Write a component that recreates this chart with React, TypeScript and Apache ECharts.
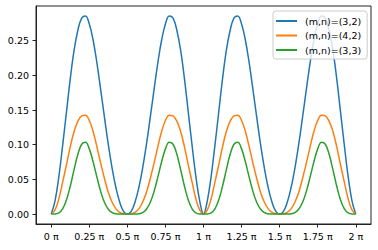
import React, { useEffect, useRef } from "react";
import * as echarts from "echarts";

// x positions in units of π
const xs = [
  0, 0.025, 0.05, 0.075, 0.1, 0.125, 0.15, 0.175, 0.2, 0.225, 0.25, 0.275, 0.3, 0.325, 0.35, 0.375, 0.4, 0.425, 0.45, 0.475,
  0.5, 0.525, 0.55, 0.575, 0.6, 0.625, 0.65, 0.675, 0.7, 0.725, 0.75, 0.775, 0.8, 0.825, 0.85, 0.875, 0.9, 0.925, 0.95, 0.975,
  1, 1.025, 1.05, 1.075, 1.1, 1.125, 1.15, 1.175, 1.2, 1.225, 1.25, 1.275, 1.3, 1.325, 1.35, 1.375, 1.4, 1.425, 1.45, 1.475,
  1.5, 1.525, 1.55, 1.575, 1.6, 1.625, 1.65, 1.675, 1.7, 1.725, 1.75, 1.775, 1.8, 1.825, 1.85, 1.875, 1.9, 1.925, 1.95, 1.975,
  2,
];

const s32 = [
  0, 0.019, 0.054, 0.099, 0.147, 0.195, 0.236, 0.265, 0.2825, 0.2855, 0.274, 0.251, 0.218, 0.179, 0.139, 0.1, 0.066, 0.038, 0.017, 0.004,
  0, 0.004, 0.017, 0.038, 0.066, 0.1, 0.139, 0.179, 0.218, 0.251, 0.274, 0.2855, 0.2825, 0.265, 0.236, 0.195, 0.147, 0.099, 0.054, 0.019,
  0, 0.019, 0.054, 0.099, 0.147, 0.195, 0.236, 0.265, 0.2825, 0.2855, 0.274, 0.251, 0.218, 0.179, 0.139, 0.1, 0.066, 0.038, 0.017, 0.004,
  0, 0.004, 0.017, 0.038, 0.066, 0.1, 0.139, 0.179, 0.218, 0.251, 0.274, 0.2855, 0.2825, 0.265, 0.236, 0.195, 0.147, 0.099, 0.054, 0.019,
  0,
];

const s42 = [
  0, 0.006, 0.022, 0.046, 0.071, 0.097, 0.119, 0.134, 0.1415, 0.1425, 0.135, 0.119, 0.097, 0.073, 0.051, 0.031, 0.017, 0.0075, 0.0025, 0.0004,
  0, 0.0004, 0.0025, 0.0075, 0.017, 0.031, 0.051, 0.073, 0.097, 0.119, 0.135, 0.1425, 0.1415, 0.134, 0.119, 0.097, 0.071, 0.046, 0.022, 0.006,
  0, 0.006, 0.022, 0.046, 0.071, 0.097, 0.119, 0.134, 0.1415, 0.1425, 0.135, 0.119, 0.097, 0.073, 0.051, 0.031, 0.017, 0.0075, 0.0025, 0.0004,
  0, 0.0004, 0.0025, 0.0075, 0.017, 0.031, 0.051, 0.073, 0.097, 0.119, 0.135, 0.1425, 0.1415, 0.134, 0.119, 0.097, 0.071, 0.046, 0.022, 0.006,
  0,
];

const s33 = [
  0, 0.0001, 0.0017, 0.0076, 0.0203, 0.0401, 0.064, 0.0862, 0.1007, 0.1035, 0.094, 0.0755, 0.0532, 0.0324, 0.0166, 0.0069, 0.0021, 0.0004, 0, 0,
  0, 0, 0, 0.0004, 0.0021, 0.0069, 0.0166, 0.0324, 0.0532, 0.0755, 0.094, 0.1035, 0.1007, 0.0862, 0.064, 0.0401, 0.0203, 0.0076, 0.0017, 0.0001,
  0, 0.0001, 0.0017, 0.0076, 0.0203, 0.0401, 0.064, 0.0862, 0.1007, 0.1035, 0.094, 0.0755, 0.0532, 0.0324, 0.0166, 0.0069, 0.0021, 0.0004, 0, 0,
  0, 0, 0, 0.0004, 0.0021, 0.0069, 0.0166, 0.0324, 0.0532, 0.0755, 0.094, 0.1035, 0.1007, 0.0862, 0.064, 0.0401, 0.0203, 0.0076, 0.0017, 0.0001,
  0,
];

const seriesNames = ["(m,n)=(3,2)", "(m,n)=(4,2)", "(m,n)=(3,3)"];
const xTicks = [0, 0.25, 0.5, 0.75, 1, 1.25, 1.5, 1.75, 2];
const xTickLabels = ["0 π", "0.25 π", "0.5 π", "0.75 π", "1 π", "1.25 π", "1.5 π", "1.75 π", "2 π"];
const yTicks = [0, 0.05, 0.1, 0.15, 0.2, 0.25];
const yTickLabels = ["0.00", "0.05", "0.10", "0.15", "0.20", "0.25"];

const colors = ["#1f77b4", "#ff7f0e", "#2ca02c"];
const FONT = "DejaVu Sans";

export default function App() {
  const ref = useRef<HTMLDivElement>(null);
  useEffect(() => {
    if (!ref.current) return;
    const chart = echarts.init(ref.current, null, { renderer: "svg" });
    const allSeries = [s32, s42, s33];
    chart.setOption({
      animation: false,
      grid: {
        left: 36,
        right: 7,
        top: 6,
        bottom: 26,
        show: true,
        borderColor: "#222",
        borderWidth: 1,
        backgroundColor: "transparent",
      },
      xAxis: {
        type: "value",
        min: -0.1,
        max: 2.1,
        position: "bottom",
        splitLine: { show: false },
        axisLine: { show: true, onZero: false, lineStyle: { color: "#222", width: 1 } },
        axisTick: {
          show: true,
          inside: false,
          length: 3.5,
          customValues: xTicks,
          lineStyle: { color: "#222", width: 1 },
        },
        axisLabel: {
          customValues: xTicks,
          margin: 7,
          fontFamily: FONT,
          fontSize: 9.5,
          color: "#000",
          formatter: (v: number) => {
            const i = xTicks.findIndex((t) => Math.abs(t - v) < 1e-6);
            return i >= 0 ? xTickLabels[i] : "";
          },
        },
      },
      yAxis: {
        type: "value",
        min: -0.0143,
        max: 0.3,
        position: "left",
        splitLine: { show: false },
        axisLine: { show: true, onZero: false, lineStyle: { color: "#222", width: 1 } },
        axisTick: {
          show: true,
          inside: false,
          length: 3.5,
          customValues: yTicks,
          lineStyle: { color: "#222", width: 1 },
        },
        axisLabel: {
          customValues: yTicks,
          margin: 7,
          fontFamily: FONT,
          fontSize: 9.5,
          color: "#000",
          formatter: (v: number) => {
            const i = yTicks.findIndex((t) => Math.abs(t - v) < 1e-6);
            return i >= 0 ? yTickLabels[i] : "";
          },
        },
      },
      legend: {
        orient: "vertical",
        left: 273,
        top: 11,
        icon: "rect",
        itemWidth: 21,
        itemHeight: 2,
        itemGap: 4.5,
        padding: [5, 6, 4, 3],
        backgroundColor: "rgba(255,255,255,0.8)",
        borderColor: "#cccccc",
        borderWidth: 1,
        borderRadius: 3,
        data: seriesNames,
        textStyle: {
          fontFamily: FONT,
          fontSize: 9.5,
          lineHeight: 10,
          color: "#000",
          padding: [0, 0, 0, 3],
        },
      },
      series: allSeries.map((arr, k) => ({
        name: seriesNames[k],
        type: "line",
        data: xs.map((x, i) => [x, arr[i]]),
        smooth: 0.4,
        symbol: "none",
        lineStyle: { color: colors[k], width: 1.5 },
        itemStyle: { color: colors[k] },
        z: 2 + k,
      })),
    });
    return () => chart.dispose();
  }, []);
  return (
    <div
      ref={ref}
      style={{ position: "fixed", left: 0, top: 0, width: 378, height: 250, background: "#fff" }}
    />
  );
}
